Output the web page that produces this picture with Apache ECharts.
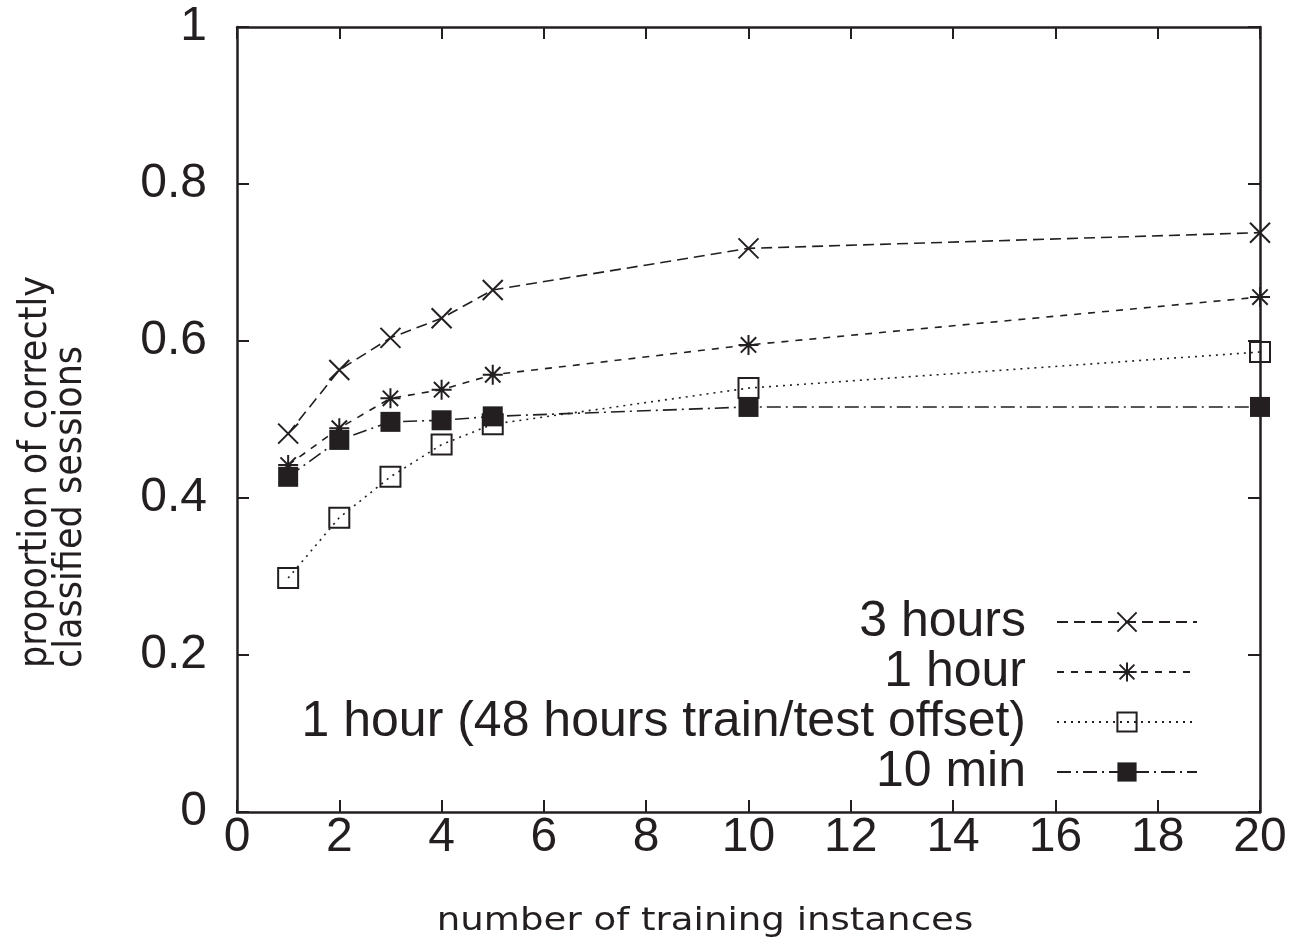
<!DOCTYPE html>
<html><head><meta charset="utf-8">
<script src="https://cdn.jsdelivr.net/npm/echarts@6/dist/echarts.min.js"></script>
<style>html,body{margin:0;padding:0;background:#fff}#c{width:1297px;height:942px}</style>
</head><body><div id="c"></div>
<script>
const xValues = [1, 2, 3, 4, 5, 10, 20];
const seriesNames = ['3 hours', '1 hour', '1 hour (48 hours train/test offset)', '10 min'];
const threeHours = [0.482, 0.563, 0.604, 0.629, 0.665, 0.718, 0.738];
const oneHour = [0.442, 0.489, 0.527, 0.538, 0.557, 0.595, 0.656];
const oneHourOffset = [0.298, 0.375, 0.427, 0.468, 0.494, 0.540, 0.586];
const tenMin = [0.427, 0.474, 0.497, 0.499, 0.504, 0.516, 0.516];
const yTitle = 'proportion of correctly\nclassified sessions';
const xTitle = 'number of training instances';

const INK = '#231f20';
const FONT = '"Liberation Sans", Arial, sans-serif';
const pair = arr => xValues.map((x, i) => [x, arr[i]]);

const crossPath = 'path://M0,0L10,10M10,0L0,10';
const starPath = 'path://M0,0L10,10M10,0L0,10M5,-1.5L5,11.5M-1.5,5L11.5,5';

function mk(name, data, symbol, size, lineType, symStyle) {
  return {
    name, type: 'line', data: pair(data), symbol, symbolSize: size,
    showAllSymbol: true,
    lineStyle: { color: INK, width: 1.6, type: lineType },
    itemStyle: symStyle,
    z: 3
  };
}

const axisLine = { show: true, onZero: false, lineStyle: { color: INK, width: 2.5 } };
const axisTick = { show: true, inside: true, length: 12, lineStyle: { color: INK, width: 2 } };

const chart = echarts.init(document.getElementById('c'));
chart.setOption({
  animation: false,
  backgroundColor: '#fff',
  grid: { left: 237, right: 37, top: 27, bottom: 130 },
  xAxis: [{
    type: 'value', min: 0, max: 20, interval: 2,
    axisLine, axisTick,
    axisLabel: { color: INK, fontSize: 48, fontFamily: FONT, margin: 2 },
    splitLine: { show: false }
  }, {
    type: 'value', min: 0, max: 20, interval: 2, position: 'top',
    axisLine, axisTick,
    axisLabel: { show: false }, splitLine: { show: false }
  }],
  yAxis: [{
    type: 'value', min: 0, max: 1, interval: 0.2,
    axisLine, axisTick,
    axisLabel: { color: INK, fontSize: 48, fontFamily: FONT, margin: 30 },
    splitLine: { show: false }
  }, {
    type: 'value', min: 0, max: 1, interval: 0.2, position: 'right',
    axisLine, axisTick,
    axisLabel: { show: false }, splitLine: { show: false }
  }],
  graphic: [{
    type: 'text', x: 53, y: 668, rotation: Math.PI / 2,
    style: {
      text: yTitle, fill: INK, align: 'left', verticalAlign: 'middle',
      fontSize: 39, lineHeight: 35,
      fontFamily: '"DejaVu Sans Condensed", "Liberation Sans Narrow", sans-serif'
    }
  }, {
    type: 'text', x: 705, y: 922, scaleX: 1.16,
    style: {
      text: xTitle, fill: INK, align: 'center', verticalAlign: 'middle',
      fontSize: 32, fontFamily: '"DejaVu Sans", sans-serif'
    }
  }],
  legend: {
    orient: 'vertical', right: 94, top: 592, align: 'right',
    itemWidth: 140, itemHeight: 24, itemGap: 0,
    data: seriesNames,
    textStyle: { color: INK, fontSize: 50, fontFamily: FONT, width: 760, align: 'right', padding: [0, 26, 0, 0], lineHeight: 40 }
  },
  series: [
    mk(seriesNames[0], threeHours, crossPath, 20, [11, 6], { color: 'none', borderColor: INK, borderWidth: 2 }),
    mk(seriesNames[1], oneHour, starPath, 20, [7, 7], { color: 'none', borderColor: INK, borderWidth: 2 }),
    mk(seriesNames[2], oneHourOffset, 'rect', 20, [2, 5], { color: 'rgba(255,255,255,0)', borderColor: INK, borderWidth: 2 }),
    mk(seriesNames[3], tenMin, 'rect', 20, [14, 5, 2, 5], { color: INK, borderColor: INK, borderWidth: 0 })
  ]
});
</script></body></html>
